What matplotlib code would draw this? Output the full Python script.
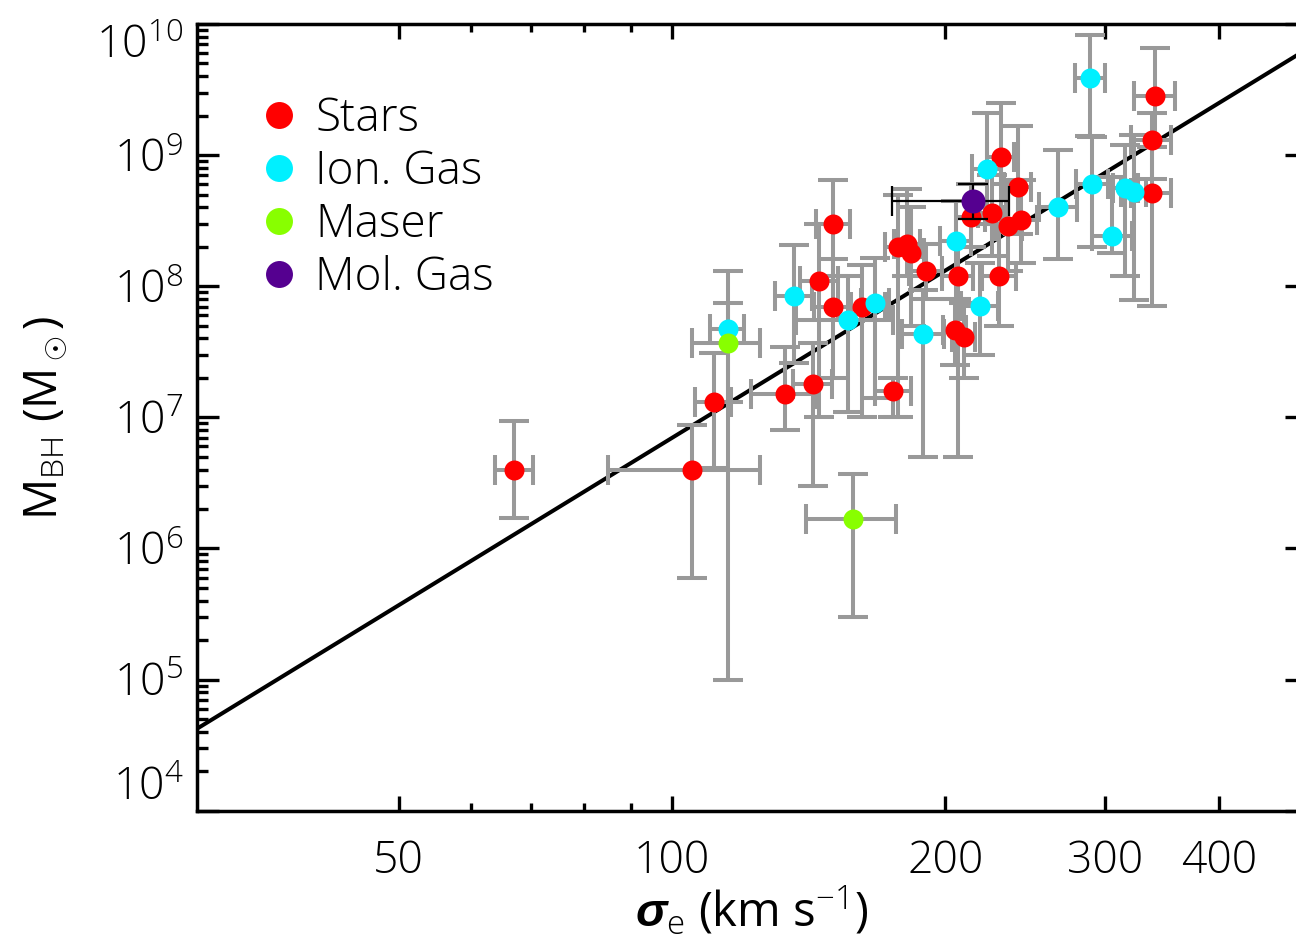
import numpy as np
import matplotlib
matplotlib.use("Agg")
import matplotlib.pyplot as plt
from matplotlib.lines import Line2D
from matplotlib.ticker import FixedLocator, FixedFormatter, NullFormatter

plt.rcParams['font.family'] = ['Open Sans', 'DejaVu Sans']
plt.rcParams['font.weight'] = 'light'
plt.rcParams['mathtext.fontset'] = 'custom'
plt.rcParams['mathtext.rm'] = 'Open Sans:light'
plt.rcParams['mathtext.it'] = 'Liberation Sans:italic:bold'
plt.rcParams['mathtext.bf'] = 'Liberation Sans:bold'

# ---- data: velocity dispersion (km/s) and black-hole mass (Msun) ----
star_sigma = [67.0, 105.1, 111.1, 133.2, 143.0, 145.2, 150.3, 150.5, 162.0, 175.3,
              177.5, 181.6, 183.3, 190.3, 206.3, 204.9, 209.6, 213.2, 225.2, 229.3,
              230.2, 234.6, 240.3, 242.1, 337.5, 340.3, 337.5]
star_sigma_err = [3.2, 20, 5, 11, 7, 7, 7, 6.5, 9.5, 8,
                  6, 6, 6, 8, 8, 6, 6, 8, 8, 10,
                  8, 8, 8, 10, 17, 18, 17]
star_mbh = [4.0e6, 4.0e6, 1.3e7, 1.5e7, 1.8e7, 1.1e8, 7.0e7, 3.0e8, 6.9e7, 1.6e7,
            2.0e8, 2.1e8, 1.8e8, 1.3e8, 1.2e8, 4.6e7, 4.1e7, 3.4e8, 3.6e8, 1.2e8,
            9.6e8, 2.9e8, 5.7e8, 3.2e8, 1.3e9, 2.8e9, 5.1e8]
star_mbh_lo = [1.7e6, 6e5, 4.1e6, 8e6, 3e6, 1e7, 2e7, 1.2e8, 1e7, 1e7,
               1e7, 1.2e8, 5e7, 8e7, 5e6, 2.5e7, 2e7, 2e8, 1.7e8, 5e7,
               3e8, 1.3e8, 2.5e8, 1.5e8, 6.6e8, 1.3e9, 7.1e7]
star_mbh_hi = [9.3e6, 8.7e6, 3.1e7, 3.45e7, 3.7e7, 3e8, 1.6e8, 6.5e8, 1.45e8, 2e7,
               5e8, 5.5e8, 4e8, 2.1e8, 2.2e8, 8e7, 7.5e7, 6e8, 7e8, 3e8,
               2.5e9, 6e8, 1.67e9, 6.5e8, 2.1e9, 6.6e9, 1.16e9]

gas_sigma = [115.1, 136.2, 156.1, 167.3, 189.1, 205.3, 218.3, 222.1, 266.3, 288.6,
             290.3, 305.3, 315.6, 322.4]
gas_sigma_err = [5, 6.3, 19, 6, 10, 8, 10, 8, 12.6, 11, 12, 15.5, 10, 10]
gas_mbh = [4.7e7, 8.4e7, 5.5e7, 7.4e7, 4.3e7, 2.2e8, 7.1e7, 7.9e8, 4.0e8, 3.85e9,
           6.0e8, 2.4e8, 5.6e8, 5.2e8]
gas_mbh_lo = [1.3e7, 2.6e7, 1.1e7, 1.4e7, 5e6, 8e7, 3e7, 3e8, 1.6e8, 1.4e9,
              2.0e8, 1.78e8, 1.2e8, 7.9e7]
gas_mbh_hi = [1.3e8, 2.06e8, 1.2e8, 1.63e8, 9.4e7, 4.5e8, 1.5e8, 2.1e9, 1.09e9, 8.2e9,
              1.38e9, 6.8e8, 1.19e9, 1.42e9]

maser_sigma = [115.1, 158.3]
maser_sigma_err = [10, 18]
maser_mbh = [3.7e7, 1.67e6]
maser_mbh_lo = [1e5, 3.0e5]
maser_mbh_hi = [7.5e7, 3.7e6]

mol_sigma = [214.6]
mol_sigma_lo = [174.6]
mol_sigma_hi = [235.0]
mol_mbh = [4.47e8]
mol_mbh_lo = [3.24e8]
mol_mbh_hi = [6.0e8]

# M-sigma relation: log M = alpha + beta * log(sigma / 200)
fit_alpha = 8.12
fit_beta = 4.24

x_ticks = [50, 100, 200, 300, 400]
x_minor = [60, 70, 80, 90]
y_exponents = [4, 5, 6, 7, 8, 9, 10]
legend_labels = ['Stars', 'Ion. Gas', 'Maser', 'Mol. Gas']

c_star = '#FF0000'
c_gas = '#00F0FF'
c_maser = '#88FF00'
c_mol = '#550090'
c_err = '#999999'

W, H = 1296, 946
fig = plt.figure(figsize=(W / 100, H / 100), dpi=100)
x0, x1, ytop, ybot = 197.3, 1306.7, 24.0, 810.7
ax = fig.add_axes([x0 / W, (H - ybot) / H, (x1 - x0) / W, (ybot - ytop) / H])
ax.set_xscale('log')
ax.set_yscale('log')
ax.set_xlim(30, 500)
ax.set_ylim(1e4, 1e10)

# relation line
s = np.logspace(np.log10(30), np.log10(500), 200)
ax.plot(s, 10 ** (fit_alpha + fit_beta * np.log10(s / 200.0)), color='black', lw=2.9, zorder=1)

err_kw = dict(fmt='none', ecolor=c_err, elinewidth=2.9, capsize=11, capthick=2.9, zorder=2)


def asym(val, lo, hi):
    v = np.asarray(val)
    return [v - np.asarray(lo), np.asarray(hi) - v]


for sig, serr, m, lo, hi in [
    (star_sigma, star_sigma_err, star_mbh, star_mbh_lo, star_mbh_hi),
    (gas_sigma, gas_sigma_err, gas_mbh, gas_mbh_lo, gas_mbh_hi),
    (maser_sigma, maser_sigma_err, maser_mbh, maser_mbh_lo, maser_mbh_hi),
]:
    ax.errorbar(sig, m, xerr=serr, yerr=asym(m, lo, hi), **err_kw)

ms = 14.4
ax.plot(star_sigma, star_mbh, 'o', ms=ms, color=c_star, mec='none', zorder=3)
ax.plot(gas_sigma, gas_mbh, 'o', ms=ms, color=c_gas, mec='none', zorder=3)
ax.plot(maser_sigma, maser_mbh, 'o', ms=ms, color=c_maser, mec='none', zorder=3)
ax.errorbar(mol_sigma, mol_mbh, xerr=asym(mol_sigma, mol_sigma_lo, mol_sigma_hi),
            yerr=asym(mol_mbh, mol_mbh_lo, mol_mbh_hi), fmt='none', ecolor='black',
            elinewidth=1.6, capsize=11, capthick=1.6, zorder=4)
ax.plot(mol_sigma, mol_mbh, 'o', ms=ms * 1.2, color=c_mol, mec='none', zorder=5)

# axes styling
for sp in ax.spines.values():
    sp.set_linewidth(2.5)
ax.xaxis.set_major_locator(FixedLocator(x_ticks))
ax.xaxis.set_major_formatter(FixedFormatter([str(t) for t in x_ticks]))
ax.xaxis.set_minor_locator(FixedLocator(x_minor))
ax.xaxis.set_minor_formatter(NullFormatter())

y_major = [10.0 ** e for e in y_exponents]
y_minor = [k * 10.0 ** e for e in y_exponents[:-1] for k in range(2, 10)]
ax.yaxis.set_major_locator(FixedLocator(y_major))
ax.yaxis.set_major_formatter(FixedFormatter([r'$\mathdefault{10^{%d}}$' % e for e in y_exponents]))
ax.yaxis.set_minor_locator(FixedLocator(y_minor))
ax.yaxis.set_minor_formatter(NullFormatter())

ax.tick_params(axis='both', which='both', direction='in', top=True, right=True,
               width=2.4, labelsize=32)
ax.tick_params(axis='x', which='major', length=11, pad=21)
ax.tick_params(axis='x', which='minor', length=5.5)
ax.tick_params(axis='y', which='major', length=16, pad=10)
ax.tick_params(axis='y', which='minor', length=8)

ylabels = ax.get_yticklabels()
ylabels[-1].set_verticalalignment('top')
ylabels[0].set_verticalalignment('bottom')

ax.set_xlabel(r'$\sigma_{\rm e}$ (km s$^{-1}$)', fontsize=34, labelpad=0)
ax.set_ylabel(r'M$_{\rm BH}$ (M$_\odot$)', fontsize=33, labelpad=20)

handles = [Line2D([], [], ls='none', marker='o', ms=19.4, color=c, mec='none')
           for c in (c_star, c_gas, c_maser, c_mol)]
ax.legend(handles, legend_labels, loc='upper left', bbox_to_anchor=(0.058, 0.908),
          frameon=False, fontsize=33, handlelength=0.75, handletextpad=0.42,
          labelspacing=0.15, borderpad=0, borderaxespad=0)

fig.savefig('out.png', dpi=100)
